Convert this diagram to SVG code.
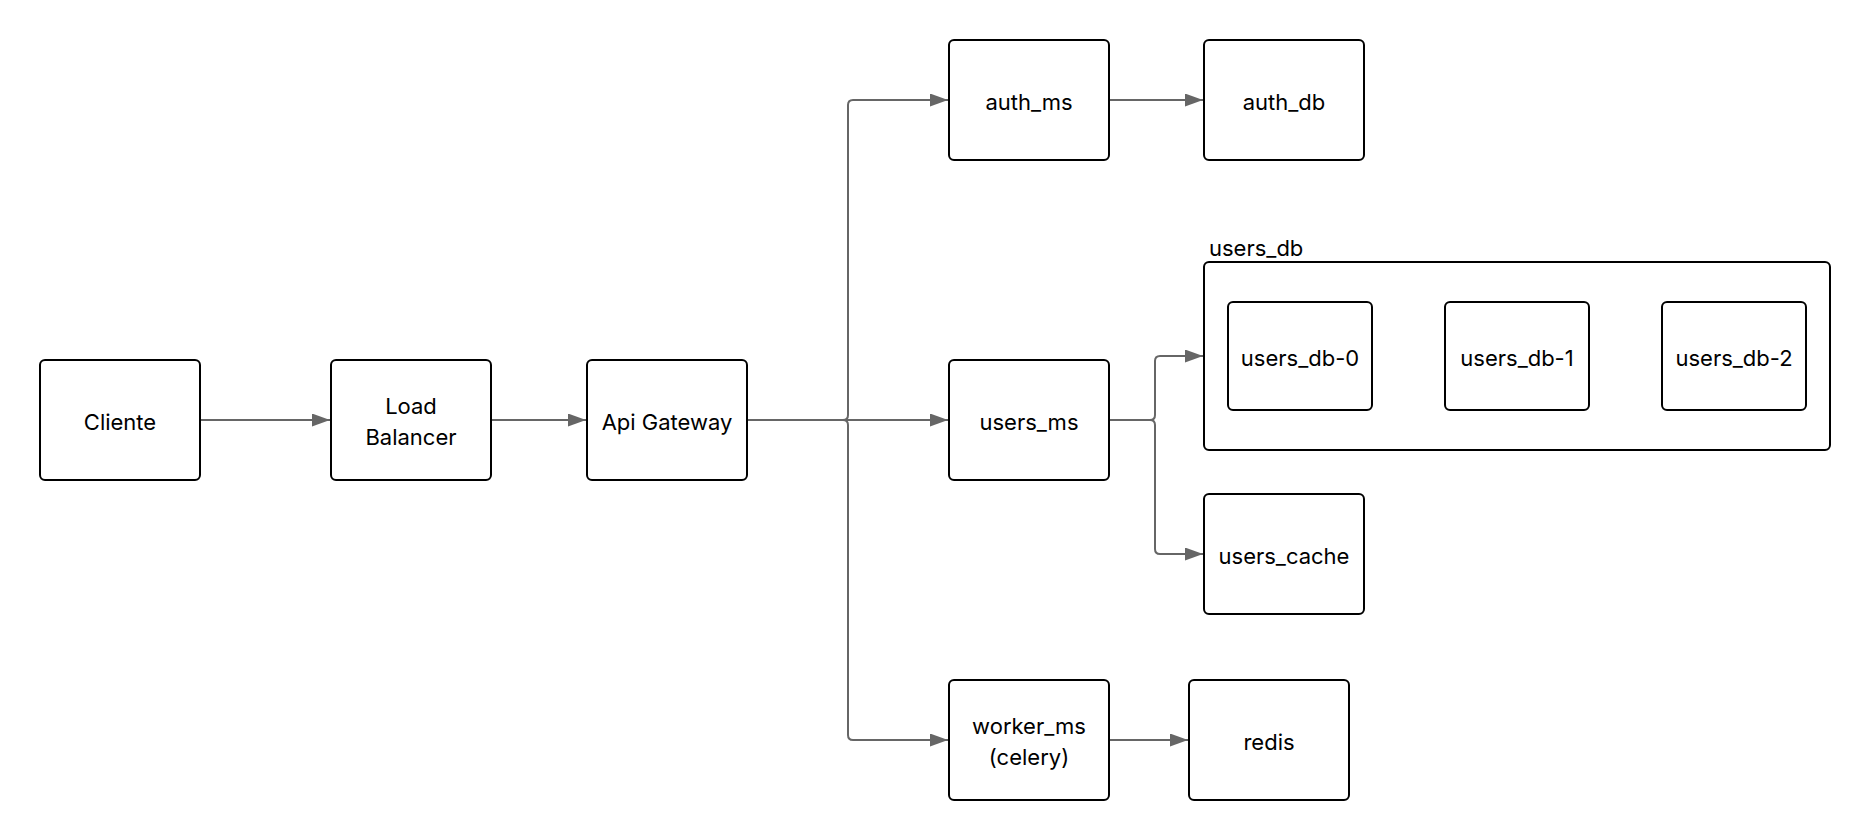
<svg xmlns="http://www.w3.org/2000/svg" width="1871" height="840" viewBox="0 0 1871 840">
<style>
.n{fill:#fff;stroke:#000;stroke-width:2}
.t{font-family:Inter,"Liberation Sans",sans-serif;font-size:22px;fill:#000;text-anchor:middle}
.g{font-family:Inter,"Liberation Sans",sans-serif;font-size:22px;fill:#000}
.c{fill:none;stroke:#666;stroke-width:2}
</style>
<defs>
<marker id="a" markerUnits="userSpaceOnUse" markerWidth="18" markerHeight="13" refX="18" refY="6.5" orient="auto">
<path d="M0,0 L18,6.5 L0,13 z" fill="#666"/>
</marker>
</defs>
<rect width="1871" height="840" fill="#fff"/>
<g id="connectors">
<path class="c" marker-end="url(#a)" d="M200,420 H330"/>
<path class="c" marker-end="url(#a)" d="M491,420 H586"/>
<path class="c" marker-end="url(#a)" d="M747,420 H843 Q848,420 848,415 V105 Q848,100 853,100 H948"/>
<path class="c" marker-end="url(#a)" d="M747,420 H948"/>
<path class="c" marker-end="url(#a)" d="M747,420 H843 Q848,420 848,425 V735 Q848,740 853,740 H948"/>
<path class="c" marker-end="url(#a)" d="M1109,100 H1203"/>
<path class="c" marker-end="url(#a)" d="M1109,420 H1150 Q1155,420 1155,415 V361 Q1155,356 1160,356 H1203"/>
<path class="c" marker-end="url(#a)" d="M1109,420 H1150 Q1155,420 1155,425 V549 Q1155,554 1160,554 H1203"/>
<path class="c" marker-end="url(#a)" d="M1109,740 H1188"/>
</g>
<g id="cliente"><rect class="n" x="40" y="360" width="160" height="120" rx="5"/><text class="t" x="120" y="429.5">Cliente</text></g>
<g id="load_balancer"><rect class="n" x="331" y="360" width="160" height="120" rx="5"/><text class="t" x="411" y="413.5">Load</text><text class="t" x="411" y="444.5">Balancer</text></g>
<g id="api_gateway"><rect class="n" x="587" y="360" width="160" height="120" rx="5"/><text class="t" x="667" y="429.5">Api Gateway</text></g>
<g id="auth_ms"><rect class="n" x="949" y="40" width="160" height="120" rx="5"/><text class="t" x="1029" y="109.5">auth_ms</text></g>
<g id="auth_db"><rect class="n" x="1204" y="40" width="160" height="120" rx="5"/><text class="t" x="1284" y="109.5">auth_db</text></g>
<g id="users_ms"><rect class="n" x="949" y="360" width="160" height="120" rx="5"/><text class="t" x="1029" y="429.5">users_ms</text></g>
<g id="users_db">
<text class="g" x="1209" y="256">users_db</text>
<rect class="n" x="1204" y="262" width="626" height="188" rx="5"/>
<g id="users_db-0"><rect class="n" x="1228" y="302" width="144" height="108" rx="5"/><text class="t" x="1300" y="365.5">users_db-0</text></g>
<g id="users_db-1"><rect class="n" x="1445" y="302" width="144" height="108" rx="5"/><text class="t" x="1517" y="365.5">users_db-1</text></g>
<g id="users_db-2"><rect class="n" x="1662" y="302" width="144" height="108" rx="5"/><text class="t" x="1734" y="365.5">users_db-2</text></g>
</g>
<g id="users_cache"><rect class="n" x="1204" y="494" width="160" height="120" rx="5"/><text class="t" x="1284" y="563.5">users_cache</text></g>
<g id="worker_ms"><rect class="n" x="949" y="680" width="160" height="120" rx="5"/><text class="t" x="1029" y="733.5">worker_ms</text><text class="t" x="1029" y="764.5">(celery)</text></g>
<g id="redis"><rect class="n" x="1189" y="680" width="160" height="120" rx="5"/><text class="t" x="1269" y="749.5">redis</text></g>
</svg>
